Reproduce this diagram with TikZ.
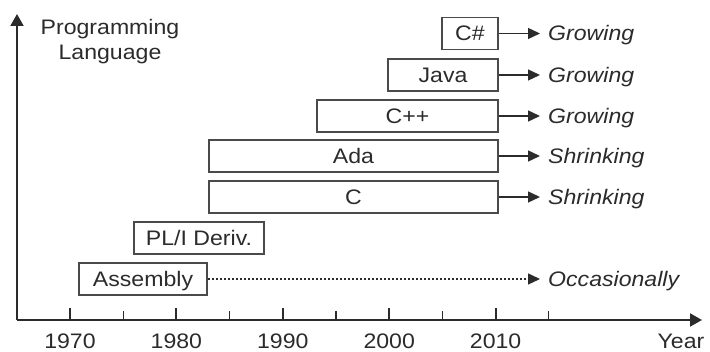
\documentclass[tikz,border=0pt]{standalone}
\usepackage{fontspec}
\setmainfont[FakeStretch=1.1]{Liberation Sans}
\usetikzlibrary{arrows.meta}

\definecolor{ink}{HTML}{2B2B2B}
\definecolor{edge}{HTML}{4A4A4A}

\begin{document}
\begin{tikzpicture}[x=1pt,y=-1pt,
  txt/.style={font=\fontsize{21}{25}\selectfont, text=ink, inner sep=0pt},
  lang/.style={txt, draw=edge, line width=1.4pt, minimum height=32pt,
               text height=15pt, text depth=0pt},
  trend/.style={txt, font=\fontsize{21}{25}\selectfont\itshape, anchor=base west},
  conn/.style={draw=ink, line width=1.4pt, -{Triangle[length=12pt,width=11pt]}},
  axis/.style={draw=ink, line width=2pt, -{Triangle[length=12pt,width=13pt]}},
  major/.style={draw=ink, line width=2pt},
  minor/.style={draw=ink, line width=1.2pt},
  year/.style={txt, anchor=base},
]
\useasboundingbox (0,0) rectangle (710,352);

% axes
\coordinate (O) at (17,320);
\coordinate (ytop) at (17,14);
\coordinate (xend) at (702,320);
\draw[axis] (O) -- (ytop);
\draw[axis] (O) -- (xend);
\node[txt, align=center, anchor=north] (ylab) at (110,19.5) {Programming\\Language};
\node[year] (xlab) at (681,348.5) {Year};

% ticks and year labels (106.4 per decade, 1970 at x=70)
\foreach \i/\yr in {0/1970,1/1980,2/1990,3/2000,4/2010}{
  \pgfmathsetmacro{\tx}{70+106.4*\i}
  \draw[major] (\tx,308) -- (\tx,320);
  \node[year] (y\yr) at (\tx,348.5) {\yr};
  \pgfmathsetmacro{\hx}{\tx+53.2}
  \draw[minor] (\hx,311) -- (\hx,320);
}

% language boxes
\node[lang, minimum width=56pt]  (cs)   at (470,33.5)  {C\#};
\node[lang, minimum width=110pt] (java) at (443,75)    {Java};
\node[lang, minimum width=181pt] (cpp)  at (407.5,116) {C++};
\node[lang, minimum width=289pt] (ada)  at (353.5,156) {Ada};
\node[lang, minimum width=289pt] (c)    at (353.5,197) {C};
\node[lang, minimum width=130pt] (pli)  at (199,238)   {PL/I Deriv.};
\node[lang, minimum width=128pt] (asm)  at (143,279)   {Assembly};

% trend arrows and labels
\foreach \n/\yy/\lab in {cs/33.5/Growing, java/75/Growing, cpp/116/Growing,
                         ada/156/Shrinking, c/197/Shrinking}{
  \coordinate (\n T) at (540,\yy);
  \draw[conn] (\n) -- (\n T);
  \node[trend] (\n L) at (548,\yy+7.5) {\lab};
}
\coordinate (asmT) at (540,279);
\draw[conn, dash pattern=on 2pt off 2pt] (asm) -- (asmT);
\node[trend] (asmL) at (548,286.5) {Occasionally};
\end{tikzpicture}
\end{document}
